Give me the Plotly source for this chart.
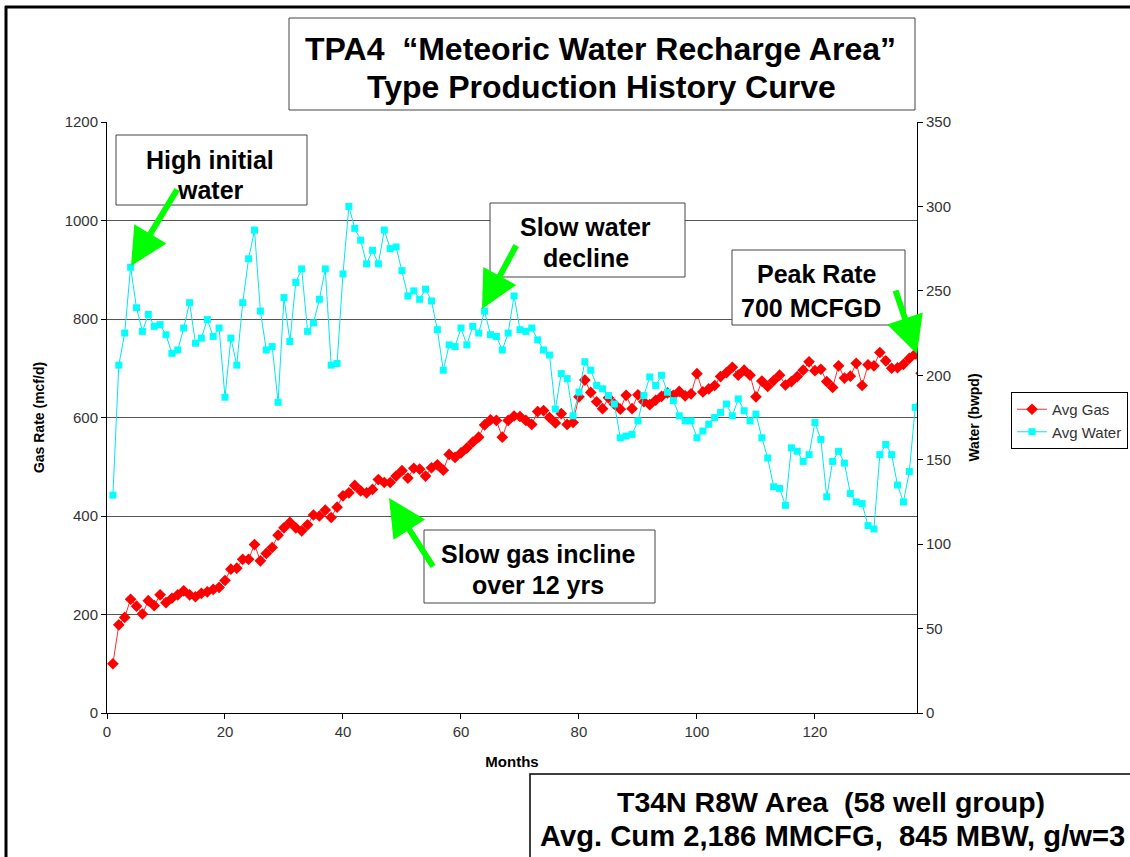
import plotly.graph_objects as go

months = list(range(1, 139))

avg_gas = [
    100, 179, 194, 231, 217, 201, 228, 218, 240, 224,
    233, 240, 248, 240, 236, 243, 246, 251, 255, 269,
    292, 294, 312, 312, 342, 309, 324, 336, 361, 376,
    387, 376, 370, 382, 402, 400, 412, 397, 418, 441,
    447, 462, 451, 447, 454, 474, 468, 468, 481, 492,
    477, 497, 495, 481, 498, 504, 493, 525, 519, 528,
    538, 550, 560, 585, 595, 594, 560, 594, 603, 602,
    594, 586, 612, 614, 600, 589, 608, 586, 590, 642,
    676, 651, 632, 618, 640, 627, 617, 645, 618, 646,
    632, 626, 635, 643, 650, 645, 653, 644, 648, 689,
    652, 658, 665, 683, 691, 702, 686, 696, 686, 642,
    674, 663, 675, 686, 666, 673, 683, 696, 713, 695,
    698, 673, 661, 705, 680, 684, 710, 665, 707, 705,
    732, 715, 700, 701, 708, 720, 729, 690,
]

avg_water = [
    129, 206, 225, 264, 240, 226, 236, 229, 230, 224,
    213, 215, 228, 243, 219, 222, 233, 223, 228, 187,
    222, 206, 243, 269, 286, 238, 215, 217, 184, 246,
    220, 255, 263, 226, 231, 245, 263, 206, 207, 260,
    300, 287, 280, 266, 274, 266, 286, 275, 276, 262,
    247, 250, 245, 251, 244, 227, 203, 218, 217, 228,
    218, 229, 225, 238, 224, 223, 215, 225, 247, 227,
    226, 228, 221, 215, 212, 180, 201, 198, 176, 190,
    208, 203, 194, 192, 188, 183, 163, 164, 165, 173,
    188, 199, 194, 200, 190, 185, 176, 173, 173, 163,
    167, 171, 175, 178, 183, 176, 186, 179, 173, 177,
    163, 151, 134, 133, 123, 157, 155, 149, 153, 172,
    162, 128, 149, 155, 148, 130, 125, 124, 111, 109,
    153, 159, 153, 135, 125, 143, 181, 190,
]

x_ticks = [0, 20, 40, 60, 80, 100, 120]
gas_ticks = [0, 200, 400, 600, 800, 1000, 1200]
water_ticks = [0, 50, 100, 150, 200, 250, 300, 350]

W, H = 1130, 857
L, R, T, B = 107, 917, 122, 713

def px(x):
    return (x - L) / (R - L)

def py(y):
    return (B - y) / (B - T)

FONT = "Liberation Sans, Arial, sans-serif"

fig = go.Figure()
fig.add_trace(go.Scatter(
    x=months, y=avg_gas, name="Avg Gas", mode="lines+markers",
    line=dict(color="#FF3030", width=1),
    marker=dict(symbol="diamond", size=9, color="#FF0000"),
))
fig.add_trace(go.Scatter(
    x=months, y=avg_water, name="Avg Water", mode="lines+markers", yaxis="y2",
    line=dict(color="#00E8F0", width=1),
    marker=dict(symbol="square", size=7, color="#00FFFF"),
))

shapes = []
def box(x0, y0, x1, y1, color="#444444", width=1):
    shapes.append(dict(type="rect", xref="paper", yref="paper",
                       x0=px(x0), x1=px(x1), y0=py(y1), y1=py(y0),
                       line=dict(color=color, width=width), fillcolor="white", layer="above"))

def hline(x0, x1, y, width=3):
    shapes.append(dict(type="line", xref="paper", yref="paper",
                       x0=px(x0), x1=px(x1), y0=py(y), y1=py(y),
                       line=dict(color="black", width=width), layer="above"))

def vline(x, y0, y1, width=3):
    shapes.append(dict(type="line", xref="paper", yref="paper",
                       x0=px(x), x1=px(x), y0=py(y0), y1=py(y1),
                       line=dict(color="black", width=width), layer="above"))

# outer slide frame
hline(5, 1135, 7)
vline(6, 6, 860)

box(289, 18, 915, 110)
box(116, 135, 307, 205)
box(490, 203, 685, 277)
box(732, 250, 905, 325)
box(424, 530, 655, 603)
box(530, 774, 1140, 862, color="black", width=1.5)

annotations = []
def text(x, y, s, size):
    annotations.append(dict(xref="paper", yref="paper", x=px(x), y=py(y), text="<b>" + s + "</b>",
                            showarrow=False, xanchor="center", yanchor="middle",
                            font=dict(family=FONT, size=size, color="black")))

def arrow(hx, hy, tx, ty):
    annotations.append(dict(xref="paper", yref="paper", x=px(hx), y=py(hy), text="",
                            showarrow=True, ax=tx - hx, ay=ty - hy,
                            arrowhead=2, arrowsize=1.25, arrowwidth=6,
                            arrowcolor="#00FF00"))

text(600, 49, "TPA4\u00a0 “Meteoric Water Recharge Area”", 32)
text(601, 87, "Type Production History Curve", 32)
text(210, 160, "High initial", 25)
text(210, 190, "water", 25)
text(585, 227, "Slow water", 25)
text(586, 258, "decline", 25)
text(817, 274, "Peak Rate", 25)
text(811, 308, "700 MCFGD", 25)
text(538, 554, "Slow gas incline", 25)
text(538, 585, "over 12 yrs", 25)
text(831, 802, "T34N R8W Area\u00a0 (58 well group)", 28.5)
text(832, 836, "Avg. Cum 2,186 MMCFG,\u00a0 845 MBW, g/w=3", 29.2)

arrow(131, 266, 178, 188)
arrow(482, 309, 517, 244)
arrow(917, 354, 895, 289)
arrow(389, 498, 434, 568)

axis_font = dict(family=FONT, size=15, color="#333333")

fig.update_layout(
    width=W, height=H,
    margin=dict(l=L, r=W - R, t=T, b=H - B, pad=0, autoexpand=False),
    paper_bgcolor="white", plot_bgcolor="white",
    font=dict(family=FONT, color="#222222"),
    showlegend=True,
    legend=dict(x=px(1128), y=py(392), xanchor="right", yanchor="top",
                bgcolor="white", bordercolor="black", borderwidth=1,
                font=dict(family=FONT, size=15, color="#333333"),
                tracegroupgap=0, itemwidth=30),
    xaxis=dict(range=[0, 137.3], tickvals=x_ticks, ticks="outside", ticklen=5,
               tickcolor="black", showline=True, linecolor="black", linewidth=1,
               showgrid=False, zeroline=False, tickfont=axis_font,
               title=dict(text="<b>Months</b>", standoff=17,
                          font=dict(family=FONT, size=15, color="black"))),
    yaxis=dict(range=[0, 1200], tickvals=gas_ticks, ticks="outside", ticklen=5,
               tickcolor="black", showline=True, linecolor="black", linewidth=1,
               showgrid=True, gridcolor="#555555", gridwidth=1, zeroline=False,
               tickfont=axis_font,
               title=dict(text="<b>Gas Rate (mcf/d)</b>", standoff=16,
                          font=dict(family=FONT, size=14, color="black"))),
    yaxis2=dict(range=[0, 350], tickvals=water_ticks, overlaying="y", side="right",
                ticks="outside", ticklen=5, tickcolor="black", showline=True,
                linecolor="black", linewidth=1, showgrid=False, zeroline=False,
                tickfont=axis_font,
                title=dict(text="<b>Water (bwpd)</b>", standoff=19,
                           font=dict(family=FONT, size=14, color="black"))),
    shapes=shapes,
    annotations=annotations,
)

fig.write_html("out.html", config={"displayModeBar": False},
               post_script="document.body.style.margin='0px';")
